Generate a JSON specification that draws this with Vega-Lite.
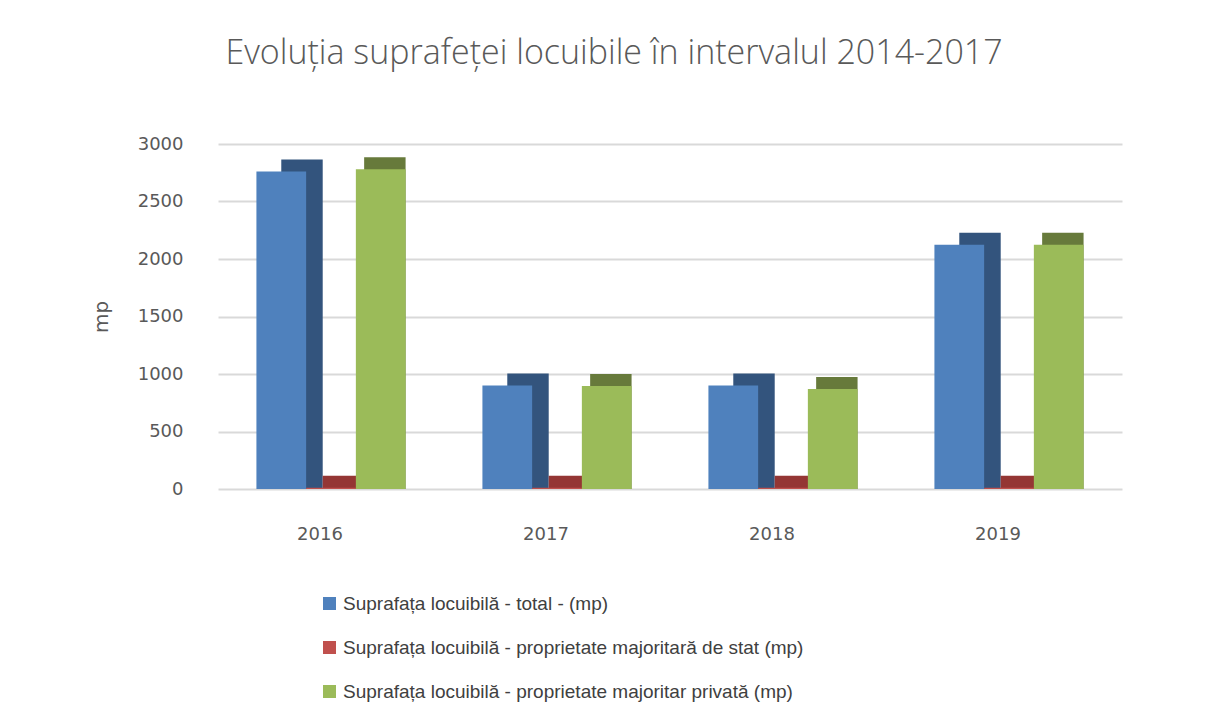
{
  "$schema": "https://vega.github.io/schema/vega-lite/v6.json",
  "width": 904,
  "height": 345,
  "autosize": {"type": "none"},
  "padding": {"left": 218, "top": 144, "right": 105, "bottom": 236},
  "background": "white",
  "config": {"view": {"stroke": null}},
  "title": {
    "text": "Evoluția suprafeței locuibile în intervalul 2014-2017",
    "font": "Open Sans",
    "fontSize": 34,
    "fontWeight": 300,
    "color": "#595959",
    "anchor": "middle",
    "offset": 64,
    "dx": -56
  },
  "data": {
    "values": [
      {"an": "2016", "serie": "Suprafața locuibilă - total - (mp)", "ord": 1, "mp": 2760},
      {"an": "2016", "serie": "Suprafața locuibilă - proprietate majoritară de stat (mp)", "ord": 2, "mp": 10},
      {"an": "2016", "serie": "Suprafața locuibilă - proprietate majoritar privată (mp)", "ord": 3, "mp": 2780},
      {"an": "2017", "serie": "Suprafața locuibilă - total - (mp)", "ord": 1, "mp": 900},
      {"an": "2017", "serie": "Suprafața locuibilă - proprietate majoritară de stat (mp)", "ord": 2, "mp": 10},
      {"an": "2017", "serie": "Suprafața locuibilă - proprietate majoritar privată (mp)", "ord": 3, "mp": 895},
      {"an": "2018", "serie": "Suprafața locuibilă - total - (mp)", "ord": 1, "mp": 900},
      {"an": "2018", "serie": "Suprafața locuibilă - proprietate majoritară de stat (mp)", "ord": 2, "mp": 10},
      {"an": "2018", "serie": "Suprafața locuibilă - proprietate majoritar privată (mp)", "ord": 3, "mp": 870},
      {"an": "2019", "serie": "Suprafața locuibilă - total - (mp)", "ord": 1, "mp": 2125},
      {"an": "2019", "serie": "Suprafața locuibilă - proprietate majoritară de stat (mp)", "ord": 2, "mp": 10},
      {"an": "2019", "serie": "Suprafața locuibilă - proprietate majoritar privată (mp)", "ord": 3, "mp": 2125}
    ]
  },
  "encoding": {
    "x": {
      "field": "an",
      "type": "nominal",
      "scale": {"paddingInner": 0.34, "paddingOuter": 0.17},
      "axis": {
        "title": null,
        "labelAngle": 0,
        "domain": false,
        "ticks": false,
        "labelFont": "DejaVu Sans",
        "labelFontSize": 18,
        "labelColor": "#595959",
        "labelPadding": 36,
        "labelOffset": -11
      }
    },
    "y": {
      "field": "mp",
      "type": "quantitative",
      "stack": null,
      "scale": {"domain": [0, 3000]},
      "axis": {
        "title": "mp",
        "titleFont": "DejaVu Sans",
        "titleFontSize": 20,
        "titleFontWeight": "normal",
        "titleColor": "#595959",
        "titlePadding": 26,
        "values": [0, 500, 1000, 1500, 2000, 2500, 3000],
        "format": "d",
        "domain": false,
        "ticks": false,
        "labelFont": "DejaVu Sans",
        "labelFontSize": 18,
        "labelColor": "#595959",
        "labelPadding": 35,
        "gridColor": "#d9d9d9",
        "gridWidth": 2
      }
    }
  },
  "layer": [
    {
      "mark": {"type": "bar", "yOffset": -12, "y2Offset": 0},
      "encoding": {
        "y2": {"datum": 0},
        "xOffset": {"field": "ord", "type": "ordinal", "scale": {"paddingInner": 0, "paddingOuter": 0.3, "align": 1}},
        "color": {
          "field": "serie",
          "type": "nominal",
          "legend": null,
          "sort": ["Suprafața locuibilă - total - (mp)", "Suprafața locuibilă - proprietate majoritară de stat (mp)", "Suprafața locuibilă - proprietate majoritar privată (mp)"],
          "scale": {"range": ["#33547d", "#943634", "#677a3b"]}
        }
      }
    },
    {
      "mark": {"type": "bar"},
      "encoding": {
        "xOffset": {"field": "ord", "type": "ordinal", "scale": {"paddingInner": 0, "paddingOuter": 0}},
        "fill": {
          "field": "serie",
          "type": "nominal",
          "sort": ["Suprafața locuibilă - total - (mp)", "Suprafața locuibilă - proprietate majoritară de stat (mp)", "Suprafața locuibilă - proprietate majoritar privată (mp)"],
          "scale": {"range": ["#4f81bd", "#c0504d", "#9bbb59"]},
          "legend": {
            "title": null,
            "orient": "none",
            "legendX": 102,
            "legendY": 450,
            "direction": "vertical",
            "symbolType": "square",
            "symbolSize": 170,
            "symbolStrokeWidth": 0,
            "labelFont": "Liberation Sans",
            "labelFontSize": 19,
            "labelColor": "#404040",
            "labelLimit": 700,
            "rowPadding": 24,
            "symbolOffset": 0,
            "labelOffset": 4
          }
        }
      }
    }
  ],
  "resolve": {"scale": {"xOffset": "independent"}}
}
